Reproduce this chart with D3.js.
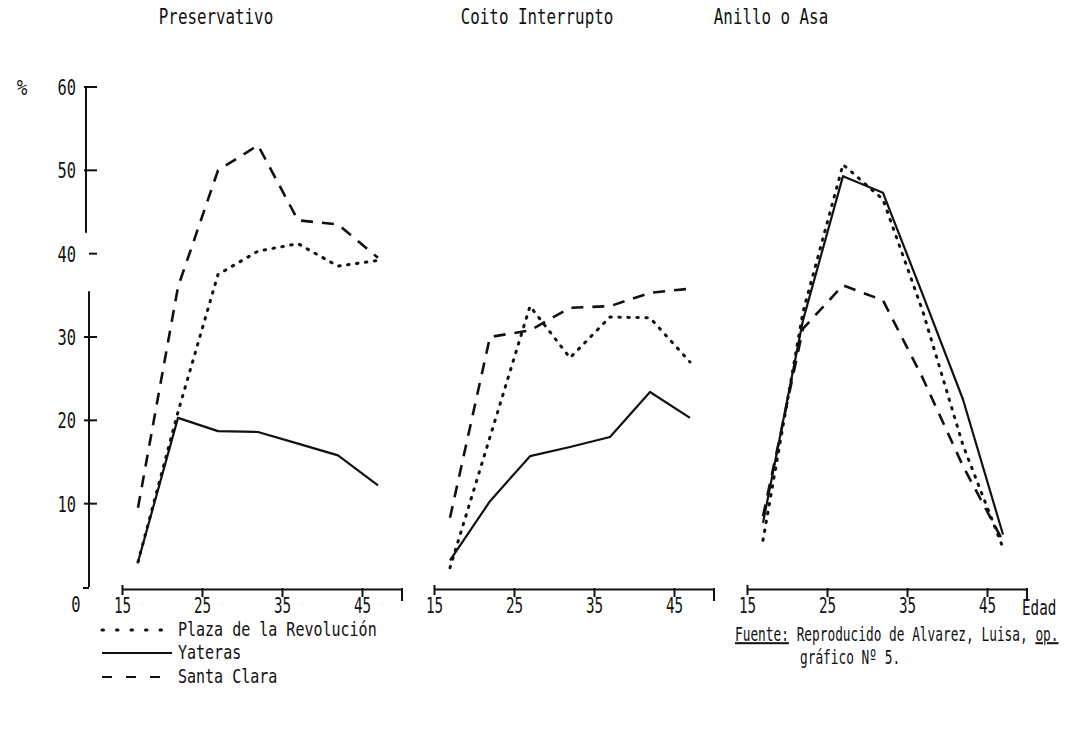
<!DOCTYPE html>
<html>
<head>
<meta charset="utf-8">
<script src="https://cdn.jsdelivr.net/npm/d3@7"></script>
<style>
  body { margin: 0; background: #fff; }
  svg text { font-family: "DejaVu Sans Mono", monospace; fill: #111; }
</style>
</head>
<body>
<div id="chart"></div>
<script>
// age group midpoints
var ages = [17, 22, 27, 32, 37, 42, 47];
var panelTitles = ["Preservativo", "Coito Interrupto", "Anillo o Asa"];

// % per panel (Preservativo, Coito Interrupto, Anillo o Asa)
var plaza = [
  [3, 21, 37.5, 40.3, 41.2, 38.5, 39.2],
  [2.3, 18, 33.7, 27.5, 32.4, 32.3, 27],
  [5.6, 33, 50.7, 46.5, 33, 17, 4.7]
];
var yateras = [
  [3, 20.3, 18.7, 18.6, 17.2, 15.8, 12.2],
  [3.2, 10.3, 15.7, 16.8, 18, 23.4, 20.3],
  [7.7, 32, 49.3, 47.3, 35, 22.5, 6.3]
];
var santaClara = [
  [9.5, 36, 50, 53, 44, 43.5, 39.5],
  [8.3, 30, 30.8, 33.5, 33.7, 35.3, 35.8],
  [8.5, 31, 36.2, 34.4, 25, 14.5, 5.5]
];

var xTicks = [15, 25, 35, 45];
var yTicks = [10, 20, 30, 40, 50, 60];
var legendNames = ["Plaza de la Revolución", "Yateras", "Santa Clara"];

function display() {
  var width = 1070, height = 738;
  var svg = d3.select("#chart").append("svg")
    .attr("width", width)
    .attr("height", height);

  var y = d3.scaleLinear().domain([0, 60]).range([587, 87]);
  var panelStart = [122, 434, 747];
  var titleX = [216, 537, 771];
  var axisY = 589;

  // styles of the three lines
  var styles = [
    {dash: "1.5,7.5", width: 3, cap: "round"},   // dotted
    {dash: null, width: 2.2, cap: "butt"},        // solid
    {dash: "12,9", width: 2.6, cap: "butt"}       // dashed
  ];
  var allSeries = [plaza, yateras, santaClara];

  function label(x, yy, str, size, sx, anchor) {
    return svg.append("text")
      .attr("transform", "translate(" + x + "," + yy + ") scale(" + sx + ",1)")
      .attr("text-anchor", anchor || "start")
      .style("font-size", size + "px")
      .text(str);
  }

  // y axis, broken around 40 as in the original
  var y0 = 88;
  svg.append("line").attr("x1", y0 - 2).attr("x2", y0 - 2)
    .attr("y1", y(60)).attr("y2", y(42.5))
    .attr("stroke", "#111").attr("stroke-width", 2);
  svg.append("line").attr("x1", y0 + 1).attr("x2", y0 + 1)
    .attr("y1", y(35.5)).attr("y2", y(0))
    .attr("stroke", "#111").attr("stroke-width", 2);
  yTicks.forEach(function(t) {
    svg.append("line")
      .attr("x1", t === 40 ? y0 + 1 : y0 - 4).attr("x2", y0 + 9)
      .attr("y1", y(t)).attr("y2", y(t))
      .attr("stroke", "#111").attr("stroke-width", 2);
    label(y0 - 12, y(t) + 8, String(t), 22, 0.7, "end");
  });
  label(22, y(60) + 8, "%", 22, 0.8, "middle").style("font-style", "italic");
  label(76, 612, "0", 22, 0.7, "middle");
  svg.append("line").attr("x1", 83).attr("x2", 89).attr("y1", 588).attr("y2", 588)
    .attr("stroke", "#111").attr("stroke-width", 2);

  panelTitles.forEach(function(title, p) {
    var x = d3.scaleLinear().domain([15, 50]).range([panelStart[p], panelStart[p] + 280]);

    // x axis
    var ax = svg.append("g")
      .attr("transform", "translate(0," + axisY + ")")
      .call(d3.axisBottom(x).tickValues(xTicks).tickSize(8).tickSizeOuter(0).tickPadding(1));
    ax.select(".domain").attr("stroke", "#111").attr("stroke-width", 2);
    ax.selectAll(".tick line").attr("stroke", "#111").attr("stroke-width", 2)
      .attr("y1", -1);
    ax.selectAll(".tick text")
      .attr("transform", "scale(0.68,1)")
      .style("font-size", "21px")
      .style("font-family", "DejaVu Sans Mono, monospace")
      .attr("fill", "#111");
    // short mark at the start, longer one at the end
    ax.select(".tick line").attr("y1", -4).attr("y2", 6);
    ax.append("line").attr("x1", x(50)).attr("x2", x(50))
      .attr("y1", -1).attr("y2", 12).attr("stroke", "#111").attr("stroke-width", 2);

    label(titleX[p], 24, title, 22, 0.72, "middle");

    var line = d3.line()
      .x(function(d, i) { return x(ages[i]); })
      .y(function(d) { return y(d); });

    allSeries.forEach(function(series, s) {
      svg.append("path")
        .datum(series[p])
        .attr("d", line)
        .attr("fill", "none")
        .attr("stroke", "#111")
        .attr("stroke-width", styles[s].width)
        .attr("stroke-linecap", styles[s].cap)
        .attr("stroke-linejoin", "round")
        .attr("stroke-dasharray", styles[s].dash);
    });
  });

  label(1022, 615, "Edad", 21, 0.68, "start");

  // legend
  var legY = [630, 653, 677];
  legendNames.forEach(function(name, i) {
    svg.append("line")
      .attr("x1", 102).attr("x2", i === 0 ? 164 : 172)
      .attr("y1", legY[i]).attr("y2", legY[i])
      .attr("stroke", "#111")
      .attr("stroke-width", i === 0 ? 3 : 2)
      .attr("stroke-linecap", styles[i].cap)
      .attr("stroke-dasharray", i === 2 ? "10,14" : styles[i].dash === null ? null : "1.5,13");
    label(178, legY[i] + 6, name, 19, 0.79, "start");
  });

  // source
  var src = label(735, 641, "", 20, 0.64, "start");
  src.append("tspan").style("text-decoration", "underline").text("Fuente:");
  src.append("tspan").text(" Reproducido de Alvarez, Luisa, ");
  src.append("tspan").style("text-decoration", "underline").text("op.");
  label(800, 664, "gráfico Nº 5.", 20, 0.64, "start");
}

display();
</script>
</body>
</html>
